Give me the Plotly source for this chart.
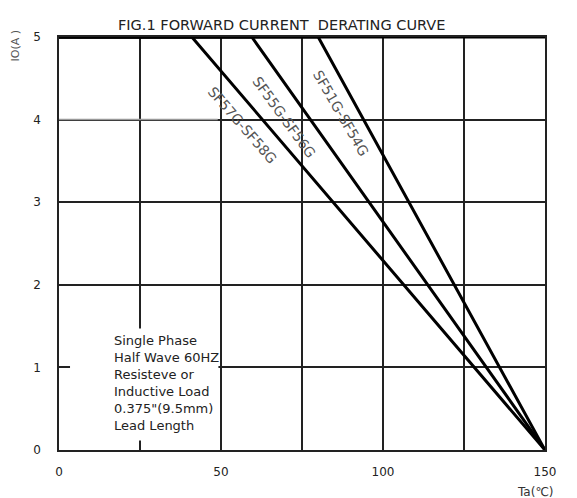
import plotly.graph_objects as go

# Data
series_names = ["SF57G-SF58G", "SF55G-SF56G", "SF51G-SF54G"]
knee_temps = [41, 59.5, 80]        # Ta where derating starts (°C)
rated_current = 5.0                # IO (A)
max_temp = 150                     # Ta where IO reaches 0
label_x = [56.5, 69.4, 87.0]
label_y = [3.93, 4.03, 4.08]
label_angles = [49, 54, 60]
x_tick_vals = [0, 50, 100, 150]
y_tick_vals = [0, 1, 2, 3, 4, 5]
note_lines = ["Single Phase", "Half Wave 60HZ", "Resisteve or",
              "Inductive Load", "0.375\"(9.5mm)", "Lead Length"]

FONT = "DejaVu Sans, sans-serif"

fig = go.Figure()
for name, knee in zip(series_names, knee_temps):
    fig.add_trace(go.Scatter(
        x=[0, knee, max_temp], y=[rated_current, rated_current, 0],
        mode="lines", line=dict(color="black", width=3),
        name=name, showlegend=False, hoverinfo="skip"))

for name, lx, ly, ang in zip(series_names, label_x, label_y, label_angles):
    fig.add_annotation(x=lx, y=ly, text=name, showarrow=False, textangle=ang,
                       font=dict(family=FONT, size=14, color="#555555"))

# note box (white patch covering the grid) and its text
fig.add_shape(type="rect", x0=3.4, x1=49.2, y0=0.115, y1=1.47, layer="above",
              line=dict(width=0), fillcolor="white")
fig.add_shape(type="line", x0=0, x1=49, y0=4, y1=4, layer="above",
              line=dict(color="#999999", width=1.5))
fig.add_annotation(x=16.7, y=1.43, xanchor="left", yanchor="top",
                   text="<br>".join(note_lines), showarrow=False, align="left",
                   borderpad=0,
                   font=dict(family=FONT, size=13, color="#222222"))

fig.add_shape(type="line", xref="paper", yref="y", x0=0, x1=1, y0=5, y1=5,
              line=dict(color="black", width=3))

fig.add_annotation(xref="paper", yref="paper", x=0.458, y=1, yshift=22,
                   text="FIG.1 FORWARD CURRENT  DERATING CURVE", showarrow=False,
                   font=dict(family=FONT, size=14.5, color="#222222"))
fig.add_annotation(xref="paper", yref="paper", x=-0.09, y=0.98, xanchor="center",
                   yanchor="middle", textangle=-90, text="IO(A )", showarrow=False,
                   font=dict(family=FONT, size=11, color="#555555"))
fig.add_annotation(xref="paper", yref="paper", x=1.023, y=0, yanchor="middle",
                   yshift=-42, text="Ta(℃)", showarrow=False,
                   font=dict(family=FONT, size=12, color="#333333"))

fig.update_xaxes(range=[0, 150], tickvals=x_tick_vals, showgrid=True,
                 gridcolor="#222222", gridwidth=1.5,
                 minor=dict(dtick=25, tick0=0, showgrid=True, gridcolor="#222222", gridwidth=1.5),
                 showline=True, linecolor="#222222", linewidth=1.5, mirror=True,
                 zeroline=False, ticks="outside", ticklen=10, tickcolor="rgba(0,0,0,0)",
                 automargin=False,
                 tickfont=dict(family=FONT, size=12, color="#222222"))
fig.update_yaxes(range=[0, 5], tickvals=y_tick_vals, showgrid=True,
                 gridcolor="#222222", gridwidth=1.5,
                 showline=True, linecolor="#222222", linewidth=1.5, mirror=True,
                 zeroline=False, ticks="outside", ticklen=14, tickcolor="rgba(0,0,0,0)",
                 automargin=False,
                 tickfont=dict(family=FONT, size=12, color="#222222"))

fig.update_layout(width=577, height=498, margin=dict(l=59, r=32, t=37, b=48),
                  plot_bgcolor="white", paper_bgcolor="white")
fig.write_html("out.html", config={"displayModeBar": False},
               post_script="document.body.style.margin='0';")
